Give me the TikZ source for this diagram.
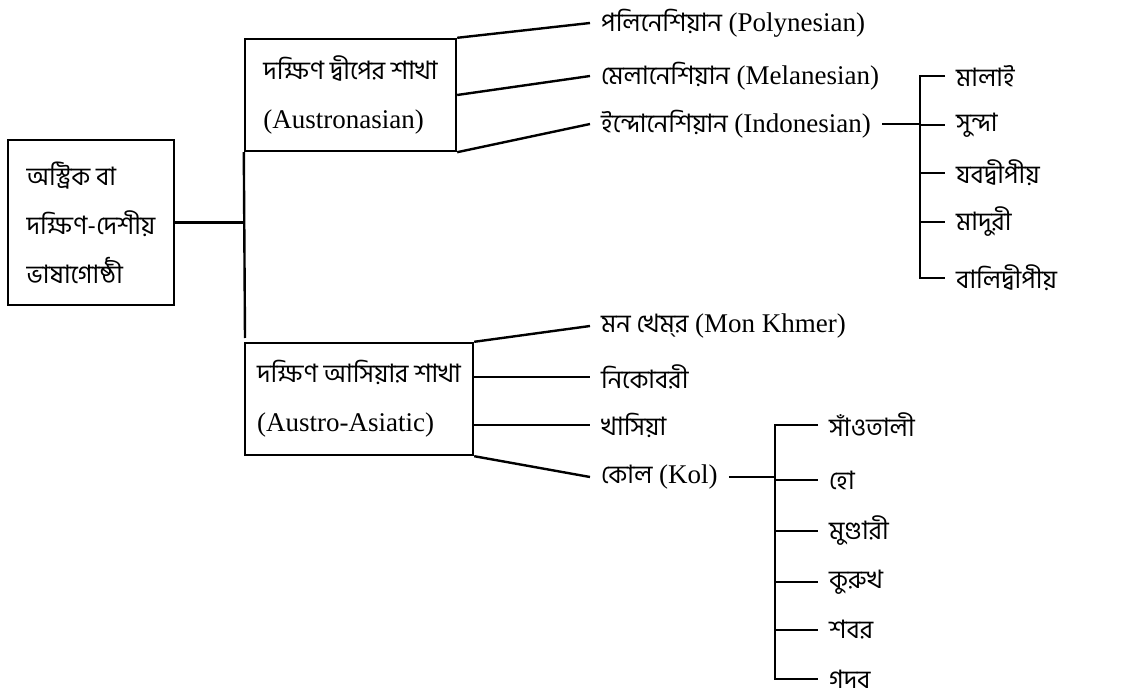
\documentclass[tikz,border=0pt]{standalone}
\usepackage{fontspec}
\setmainfont{Liberation Serif}
\newfontfamily\bn[Script=Bengali, Scale=0.94]{Hind Siliguri}
\tikzset{
  box/.style={draw, align=left, inner sep=0pt, minimum height=112pt},
  lang/.style={anchor=west, inner xsep=10pt, inner ysep=0pt},
}
\begin{document}
\begin{tikzpicture}[x=1pt, y=-1pt, line width=2.4pt, font=\fontsize{27}{49}\selectfont]
  \useasboundingbox (0,0) rectangle (1128,690);

  % boxes
  \node[box, minimum width=166pt, minimum height=165pt] (root) at (91,222.5)
    {{\bn অস্ট্রিক বা}\\{\bn দক্ষিণ-দেশীয়}\\{\bn ভাষাগোষ্ঠী}};
  \node[box, minimum width=211pt] (aus) at (350.5,95) {{\bn দক্ষিণ দ্বীপের শাখা}\\(Austronasian)};
  \node[box, minimum width=228pt] (asia) at (359,399) {{\bn দক্ষিণ আসিয়ার শাখা}\\(Austro-Asiatic)};
  \coordinate (trunk) at (245,338);

  % branches
  \node[lang] (poly) at (590,23) {{\bn পলিনেশিয়ান} (Polynesian)};
  \node[lang] (mela) at (590,76) {{\bn মেলানেশিয়ান} (Melanesian)};
  \node[lang] (indo) at (590,124) {{\bn ইন্দোনেশিয়ান} (Indonesian)};
  \node[lang] (mon) at (590,326) {{\bn মন খেম্‌র} (Mon Khmer)};
  \node[lang] (nico) at (590,377) {\bn নিকোবরী};
  \node[lang] (khasi) at (590,425) {\bn খাসিয়া};
  \node[lang] (kol) at (590,477) {{\bn কোল} (Kol)};

  % leaves
  \coordinate (ib) at (920,125);
  \node[lang] (malay) at (945,76) {\bn মালাই};
  \node[lang] (sunda) at (945,125) {\bn সুন্দা};
  \node[lang] (java) at (945,173) {\bn যবদ্বীপীয়};
  \node[lang] (madura) at (945,222) {\bn মাদুরী};
  \node[lang] (bali) at (945,278) {\bn বালিদ্বীপীয়};
  \coordinate (kb) at (775,477);
  \node[lang] (santali) at (818,425) {\bn সাঁওতালী};
  \node[lang] (ho) at (818,480) {\bn হো};
  \node[lang] (munda) at (818,531) {\bn মুণ্ডারী};
  \node[lang] (kurukh) at (818,582) {\bn কুরুখ};
  \node[lang] (sabar) at (818,630) {\bn শবর};
  \node[lang] (gadaba) at (818,679) {\bn গদব};

  % lines
  \draw (root.east) -- (root.east -| aus.south west);
  \draw (aus.south west) -- (trunk);
  \draw (aus.north east) -- (poly.west);
  \draw (aus.east) -- (mela.west);
  \draw (aus.south east) -- (indo.west);
  \draw (asia.north east) -- (mon.west);
  \draw (asia.east |- nico.west) -- (nico.west);
  \draw (asia.east |- khasi.west) -- (khasi.west);
  \draw (asia.south east) -- (kol.west);

  \draw (indo.east) -- (indo.east -| ib);
  \draw (malay.west) -- (ib |- malay.west) -- (ib |- bali.west) -- (bali.west);
  \foreach \n in {sunda, java, madura}
    \draw (ib |- \n.west) -- (\n.west);
  \draw (kol.east) -- (kol.east -| kb);
  \draw (santali.west) -- (kb |- santali.west) -- (kb |- gadaba.west) -- (gadaba.west);
  \foreach \n in {ho, munda, kurukh, sabar}
    \draw (kb |- \n.west) -- (\n.west);
\end{tikzpicture}
\end{document}
